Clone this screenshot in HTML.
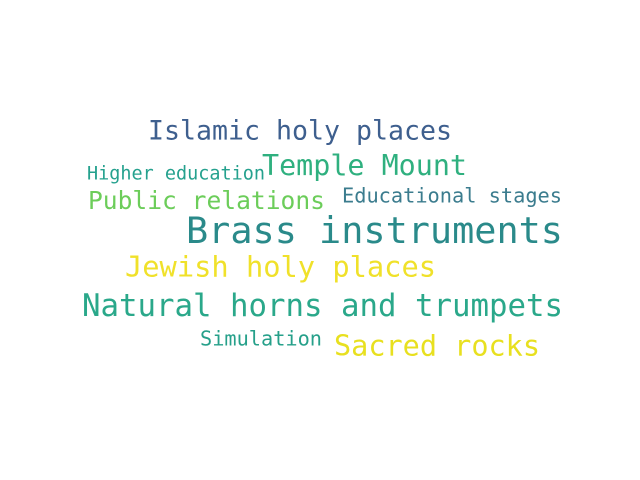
<!DOCTYPE html>
<html><head><meta charset="utf-8"><style>html,body{margin:0;padding:0;background:#fff}svg{display:block}</style></head>
<body>
<svg width="640" height="480" viewBox="0 0 640 480" font-family="'DejaVu Sans Mono','Liberation Mono',monospace">
<rect width="640" height="480" fill="#fff"/>
<g id="words"></g>
</svg>
<script>
const words = ["Islamic holy places","Temple Mount","Higher education","Public relations","Educational stages","Brass instruments","Jewish holy places","Natural horns and trumpets","Simulation","Sacred rocks"];
const weights = [26.6,28.4,18.5,24.6,20.3,36.8,28.7,30.7,20.3,28.5];
const colors = ["#3e5f8e","#2fb07f","#25a18e","#6ccd5a","#3b7c8e","#2a8a8a","#f0e12a","#2aa88a","#26a08a","#e8e01f"];
const lefts = [148,262,87,88,342,186,125,82,200,334];
const centers = [130,165,173,200,195,230,266,305,338,345];
const widths = [304,205,178,237,220,377,311,481,122,206];
const g = document.getElementById('words');
words.forEach((w,i)=>{
  const t = document.createElementNS('http://www.w3.org/2000/svg','text');
  
  
  t.setAttribute('x', lefts[i]);
  t.setAttribute('y', centers[i] + weights[i]*0.36);
  t.setAttribute('font-size', weights[i]);
  t.setAttribute('fill', colors[i]);
  t.setAttribute('textLength', widths[i]);
  t.setAttribute('lengthAdjust', 'spacingAndGlyphs');
  t.textContent = w;
  g.appendChild(t);
});
</script>
</body></html>
